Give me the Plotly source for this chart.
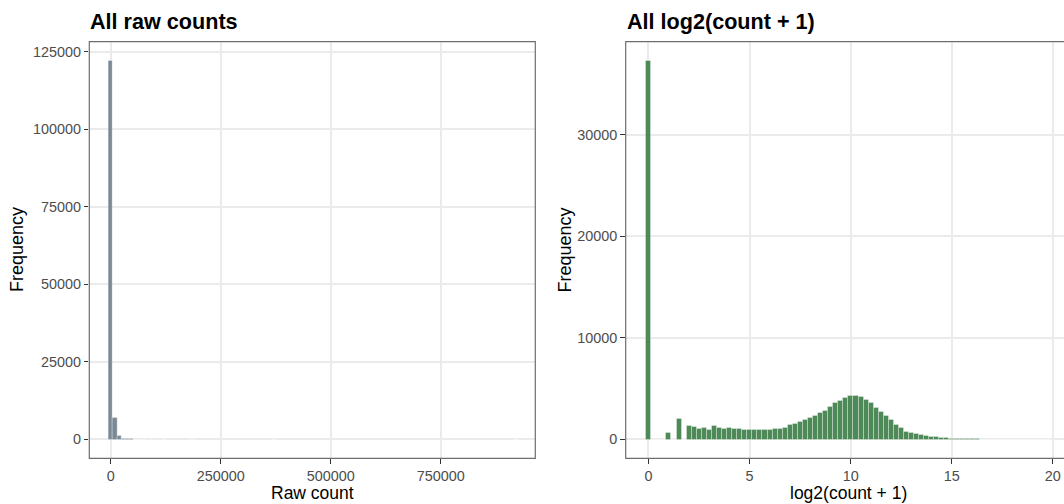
import plotly.graph_objects as go

# ---------------- data ----------------
# Left panel: histogram of raw counts (bin width ~9300, bins centred on multiples)
RAW_BINWIDTH = 9300
raw_bin_index = [0, 1, 2, 3, 4, 5, 6, 7, 8, 10, 13, 20, 40, 99]
raw_counts = [122100, 7100, 1100, 350, 150, 80, 40, 20, 10, 5, 2, 1, 1, 1]

# Right panel: histogram of log2(count + 1) (bin width 0.25)
LOG_BINWIDTH = 0.25
log_counts = [
    37300, 0, 0, 0, 660, 0, 2030, 0,            # 0.00 - 1.75
    1390, 1220, 1060, 1160, 925, 1320, 1120, 1060,  # 2.00 - 3.75
    1120, 1020, 1060, 1000, 960, 1000, 990, 940,    # 4.00 - 5.75
    1000, 1050, 1060, 1180, 1400, 1540, 1710, 1950, # 6.00 - 7.75
    2180, 2360, 2620, 2780, 3200, 3580, 3840, 4150, # 8.00 - 9.75
    4280, 4300, 4200, 3940, 3580, 3150, 2760, 2360, # 10.00 - 11.75
    1900, 1480, 1120, 800, 660, 560, 460, 390,      # 12.00 - 13.75
    300, 230, 170, 130, 100, 70, 50, 38,            # 14.00 - 15.75
    27, 19, 13, 9, 6, 4, 3, 2,                      # 16.00 - 17.75
    2, 1, 1, 1, 0, 1, 0, 1,                         # 18.00 - 19.75
]

raw_xticks = [0, 250000, 500000, 750000]
raw_yticks = [0, 25000, 50000, 75000, 100000, 125000]
log_xticks = [0, 5, 10, 15, 20]
log_yticks = [0, 10000, 20000, 30000]

titles = ["All raw counts", "All log2(count + 1)"]
xtitles = ["Raw count", "log2(count + 1)"]
ytitle = "Frequency"

raw_centers = [i * RAW_BINWIDTH for i in raw_bin_index]
log_centers = [i * LOG_BINWIDTH for i in range(len(log_counts))]

# ---------------- layout geometry (pixels) ----------------
W, H = 1064, 504
L1, R1 = 89.3, 535.3
L2, R2 = 625.7, 1070.5
TOP, BOT = 41.7, 458.3

def px(x):
    return x / W

def py(y):
    return (H - y) / H

FONT = "Liberation Sans, Arial, Helvetica, sans-serif"
tickfont = dict(family=FONT, size=14.4, color="#4d4d4d")

fig = go.Figure()
fig.add_trace(go.Bar(
    x=raw_centers, y=raw_counts, width=RAW_BINWIDTH,
    marker=dict(color="rgb(122,137,149)", line=dict(color="white", width=0.3)),
    xaxis="x", yaxis="y", hoverinfo="x+y",
))
fig.add_trace(go.Bar(
    x=log_centers, y=log_counts, width=LOG_BINWIDTH,
    marker=dict(color="rgb(78,138,88)", line=dict(color="rgba(255,255,255,0.8)", width=0.4)),
    xaxis="x2", yaxis="y2", hoverinfo="x+y",
))

common = dict(
    showgrid=True, gridcolor="#ebebeb", gridwidth=1.5, zeroline=False,
    showline=False, ticks="outside", ticklen=4.5, tickwidth=1, tickcolor="#333333",
    tickfont=tickfont,
)

ydom = [py(BOT), py(TOP)]
# right-panel x range mapped onto a domain that ends at the image edge
scale2 = (R2 - L2) / (20.875 + 1.125)
x2_right = -1.125 + (W - L2) / scale2

fig.update_layout(
    width=W, height=H,
    margin=dict(l=0, r=0, t=0, b=0),
    paper_bgcolor="white", plot_bgcolor="white",
    showlegend=False, bargap=0, barmode="overlay",
    xaxis=dict(domain=[px(L1), px(R1)], range=[-48600, 965000], anchor="y",
               tickvals=raw_xticks, ticktext=[str(v) for v in raw_xticks],
               ticklabelstandoff=0, **common),
    yaxis=dict(domain=ydom, range=[-6105, 128215], anchor="x",
               tickvals=raw_yticks, ticktext=[str(v) for v in raw_yticks], **common),
    xaxis2=dict(domain=[px(L2), 1.0], range=[-1.125, x2_right], anchor="y2",
                tickvals=log_xticks, ticktext=[str(v) for v in log_xticks],
                ticklabelstandoff=0, **common),
    yaxis2=dict(domain=ydom, range=[-1865, 39165], anchor="x2",
                tickvals=log_yticks, ticktext=[str(v) for v in log_yticks], **common),
)

# panel borders
for (l, r) in [(L1, R1), (L2, R2)]:
    fig.add_shape(type="rect", xref="paper", yref="paper",
                  x0=px(l), x1=px(r), y0=py(BOT), y1=py(TOP),
                  line=dict(color="#6e6e6e", width=1.2), fillcolor="rgba(0,0,0,0)",
                  layer="above")

ann = []
# titles
for t, l in zip(titles, [L1, L2]):
    ann.append(dict(text="<b>%s</b>" % t, x=px(l - 1), y=py(21.5), xref="paper", yref="paper",
                    xanchor="left", yanchor="middle", showarrow=False,
                    font=dict(family=FONT, size=21.6, color="black")))
# x axis titles
for t, l, r in zip(xtitles, [L1, L2], [R1, R2]):
    ann.append(dict(text=t, x=px((l + r) / 2), y=0, xref="paper", yref="paper",
                    xanchor="center", yanchor="bottom", showarrow=False, borderpad=0,
                    font=dict(family=FONT, size=17.5, color="black")))
# y axis titles
for xc in [17, 564.5]:
    ann.append(dict(text=ytitle, x=px(xc), y=py((TOP + BOT) / 2), xref="paper", yref="paper",
                    xanchor="center", yanchor="middle", textangle=-90, showarrow=False,
                    font=dict(family=FONT, size=18, color="black")))
fig.update_layout(annotations=ann)

fig.write_html("out.html")
